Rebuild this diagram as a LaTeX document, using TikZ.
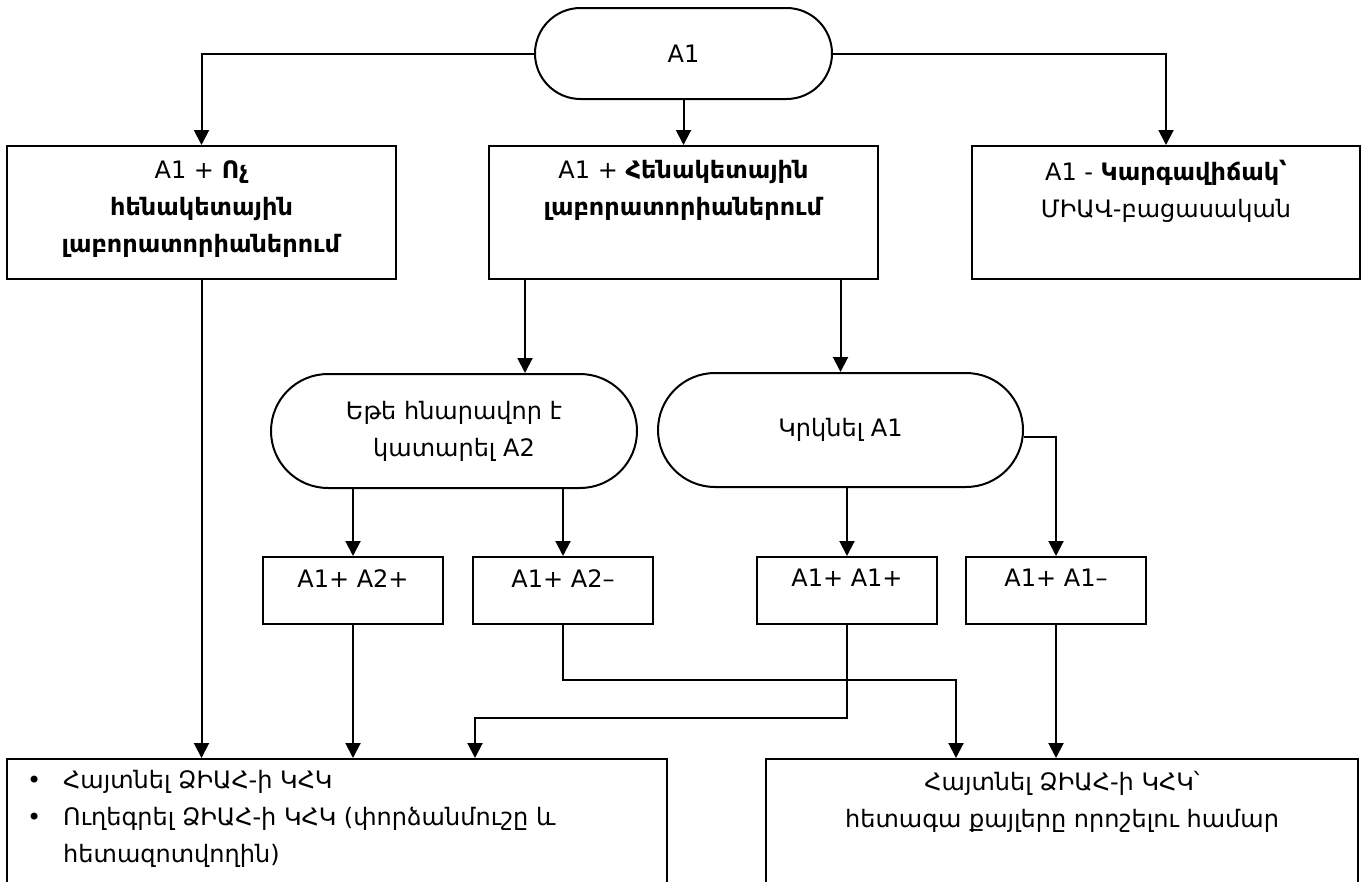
\documentclass[tikz,border=0pt]{standalone}
\usepackage{fontspec}
\setmainfont{DejaVu Sans}
\usetikzlibrary{arrows.meta,positioning,shapes.misc}

\begin{document}
\begin{tikzpicture}[x=1pt,y=-1pt,
    every node/.style={font=\fontsize{24}{37}\selectfont},
    box/.style={draw,line width=2pt,minimum width=389,minimum height=133,inner sep=0pt},
    pill/.style={draw,line width=2pt,rounded rectangle,minimum width=366,minimum height=114,inner sep=0pt,align=center},
    txt/.style={align=center,inner sep=0pt},
    arr/.style={line width=2pt,-{Triangle[length=15pt,width=15pt]}}]

    \useasboundingbox (0,0) rectangle (1370,881);
    \clip (0,0) rectangle (1370,881);

    % first test and the three labs
    \node[pill, minimum width=297, minimum height=91] (start) at (683.5,53.5) {A1};
    \node[box] (labnon) at (201.5,212.5) {};
    \node[box] (labref) at (683.5,212.5) {};
    \node[box, minimum width=388] (neg) at (1166,212.5) {};

    \node[txt, below=15pt of labnon.north] {A1 + \textbf{Ոչ}\\ \textbf{հենակետային}\\ \textbf{լաբորատորիաներում}};
    \node[txt, below=15pt of labref.north] {A1 + \textbf{Հենակետային}\\ \textbf{լաբորատորիաներում}};
    \node[txt, below=15pt of neg.north] {A1 - \textbf{Կարգավիճակ՝}\\ ՄԻԱՎ-բացասական};

    \draw[arr] (start.west) -| (labnon.north);
    \draw[arr] (start.south) -- (labref.north);
    \draw[arr] (start.east) -| (neg.north);

    % second step
    \node[pill] (ifa2) at (454,431) {Եթե հնարավոր է\\ կատարել A2};
    \node[pill, minimum width=365] (rep) at (840.5,430) {Կրկնել A1};

    \draw[arr] (525,0 |- labref.south) -- (525,0 |- ifa2.north);
    \draw[arr] (rep.north |- labref.south) -- (rep.north);

    \foreach \nm/\cx/\lbl in {pp/353/{A1+ A2+}, pm/563/{A1+ A2–}, rp/847/{A1+ A1+}, rm/1056/{A1+ A1–}} {
        \node[box, minimum width=180, minimum height=67] (\nm) at (\cx,590.5) {};
        \node[txt, below=13pt of \nm.north] {\lbl};
    }

    \draw[arr] (pp.north |- ifa2.south) -- (pp.north);
    \draw[arr] (pm.north |- ifa2.south) -- (pm.north);
    \draw[arr] (rp.north |- rep.south) -- (rp.north);
    \draw[arr] ([yshift=-7pt]rep.east) -| (rm.north);

    % reports
    \node[box, minimum width=660, minimum height=141] (rep1) at (337,829.5) {};
    \node[box, minimum width=592, minimum height=141] (rep2) at (1062,829.5) {};

    \node[txt, align=left, below right=12pt and 21pt of rep1.north west]
        {\makebox[36pt][l]{•}Հայտնել ՁԻԱՀ-ի ԿՀԿ\\
         \makebox[36pt][l]{•}Ուղեգրել ՁԻԱՀ-ի ԿՀԿ (փորձանմուշը և\\
         \hspace*{36pt}հետազոտվողին)};
    \node[txt, below=13pt of rep2.north] {Հայտնել ՁԻԱՀ-ի ԿՀԿ՝\\ հետագա քայլերը որոշելու համար};

    \draw[arr] (labnon.south) -- (labnon.south |- rep1.north);
    \draw[arr] (pp.south) -- (pp.south |- rep1.north);
    \draw[arr] (pm.south) -- ++(0,55) -| ([xshift=-106pt]rep2.north);
    \draw[arr] (rp.south) -- ++(0,93) -| ([xshift=138pt]rep1.north);
    \draw[arr] (rm.south) -- (rm.south |- rep2.north);
\end{tikzpicture}
\end{document}
